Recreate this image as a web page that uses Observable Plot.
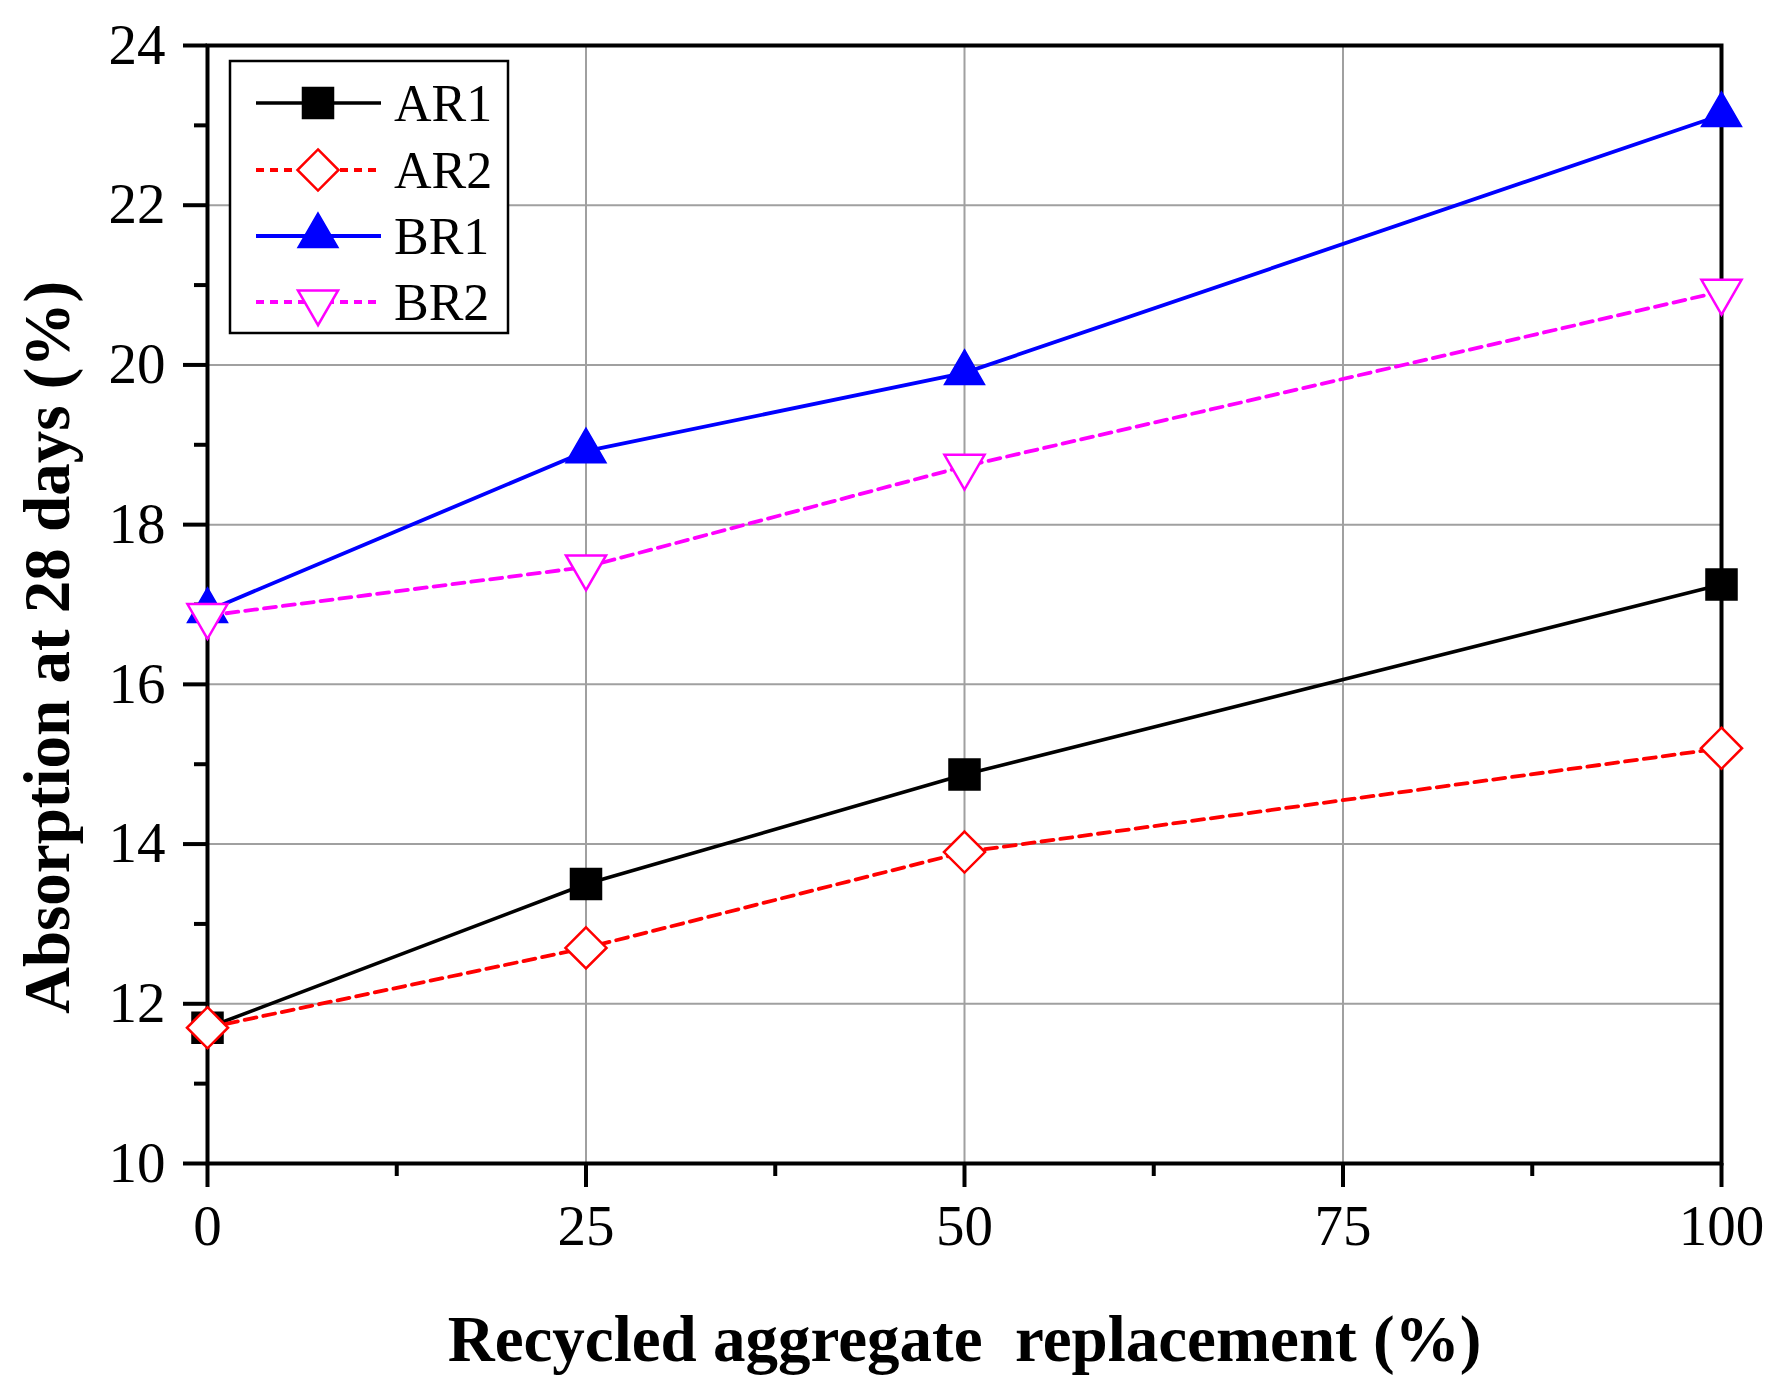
<!DOCTYPE html>
<html>
<head>
<meta charset="utf-8">
<script src="https://cdn.jsdelivr.net/npm/d3@7"></script>
<script src="https://cdn.jsdelivr.net/npm/@observablehq/plot@0.6"></script>
<style>
  html, body { margin: 0; padding: 0; background: #fff; overflow: hidden; }
  #wrap { position: relative; width: 1788px; height: 1397px; }
  #legend { position: absolute; left: 0; top: 0; }
</style>
</head>
<body>
<div id="wrap"></div>
<script>
// ---- data ----
const replacement = [0, 25, 50, 100];
const seriesNames = ["AR1", "AR2", "BR1", "BR2"];
const AR1 = [11.7, 13.5, 14.87, 17.25];
const AR2 = [11.7, 12.7, 13.9, 15.2];
const BR1 = [16.92, 18.92, 19.9, 23.13];
const BR2 = [16.86, 17.47, 18.73, 20.92];
const xTicks = [0, 25, 50, 75, 100];
const xMinorTicks = [12.5, 37.5, 62.5, 87.5];
const yTicks = [10, 12, 14, 16, 18, 20, 22, 24];
const yMinorTicks = [11, 13, 15, 17, 19, 21, 23];
const xTitle = "Recycled aggregate  replacement (%)";
const yTitle = "Absorption at 28 days (%)";

const values = {AR1, AR2, BR1, BR2};

const triangleDown = {
  draw(context, size) {
    const y = Math.sqrt(size / (3 * Math.sqrt(3)));
    context.moveTo(0, 2 * y);
    context.lineTo(-Math.sqrt(3) * y, -y);
    context.lineTo(Math.sqrt(3) * y, -y);
    context.closePath();
  }
};

const styles = {
  AR1: {stroke: "#000000", dash: null, width: 3.6, symbol: "square", r: 17.5, fill: "#000000", symStroke: 1.5},
  AR2: {stroke: "#ff0000", dash: "12,7", width: 3.8, symbol: "diamond2", r: 18.5, fill: "#ffffff", symStroke: 2.5},
  BR1: {stroke: "#0000ff", dash: null, width: 3.8, symbol: "triangle", r: 14.9, fill: "#0000ff", symStroke: 1.5},
  BR2: {stroke: "#ff00ff", dash: "12,7", width: 3.8, symbol: triangleDown, r: 14.9, fill: "#ffffff", symStroke: 2.5}
};

const rows = seriesNames.map(name => replacement.map((x, i) => ({name, x, y: values[name][i]})));

const font = "'Liberation Serif', 'Times New Roman', serif";

const marks = [
  Plot.ruleX(xTicks, {stroke: "#a0a0a0", strokeWidth: 2}),
  Plot.ruleY(yTicks, {stroke: "#a0a0a0", strokeWidth: 2}),
  Plot.frame({stroke: "#000", strokeWidth: 4}),
  Plot.axisY({ticks: yTicks, tickSize: 24, tickPadding: 18, strokeWidth: 4, fontSize: 57, label: null, tickFormat: d => String(d)}),
  Plot.axisY({ticks: yMinorTicks, tickSize: 13, strokeWidth: 4, text: null, label: null}),
  Plot.axisX({ticks: xTicks, tickSize: 24, tickPadding: 17, strokeWidth: 4, fontSize: 57, label: null, tickFormat: d => String(d)}),
  Plot.axisX({ticks: xMinorTicks, tickSize: 13, strokeWidth: 4, text: null, label: null}),
  Plot.text([yTitle], {frameAnchor: "left", dx: -139, dy: 43, rotate: -90, lineAnchor: "bottom", textAnchor: "middle",
    fontSize: 65, fontWeight: "bold", fill: "#000"}),
  Plot.text([xTitle], {frameAnchor: "bottom", dy: 197, lineAnchor: "bottom", textAnchor: "middle",
    fontSize: 65, fontWeight: "bold", fill: "#000"})
];

rows.forEach((data, k) => {
  const s = styles[seriesNames[k]];
  marks.push(Plot.line(data, {x: "x", y: "y", stroke: s.stroke, strokeWidth: s.width, strokeDasharray: s.dash || undefined}));
});
rows.forEach((data, k) => {
  const s = styles[seriesNames[k]];
  marks.push(Plot.dot(data, {x: "x", y: "y", symbol: s.symbol, r: s.r, fill: s.fill, stroke: s.stroke, strokeWidth: s.symStroke}));
});

const chart = Plot.plot({
  width: 1788,
  height: 1397,
  marginLeft: 207,
  marginRight: 67,
  marginTop: 45,
  marginBottom: 234,
  style: {fontFamily: font, background: "#fff", color: "#000", overflow: "visible"},
  x: {domain: [0, 100]},
  y: {domain: [10, 24]},
  marks
});

const wrap = document.getElementById("wrap");
wrap.appendChild(chart);

// ---- legend overlay ----
const legendBox = {left: 230, top: 61, width: 278, height: 272};
const rowY = [42, 109, 175, 241];
const leg = d3.create("svg")
  .attr("id", "legend")
  .attr("width", legendBox.width + 4)
  .attr("height", legendBox.height + 4)
  .style("left", (legendBox.left - 2) + "px")
  .style("top", (legendBox.top - 2) + "px")
  .style("position", "absolute");
const g = leg.append("g").attr("transform", "translate(2,2)");
g.append("rect").attr("width", legendBox.width).attr("height", legendBox.height)
  .attr("fill", "#fff").attr("stroke", "#000").attr("stroke-width", 2.5);
const symMap = {square: d3.symbolSquare, diamond2: d3.symbolDiamond2, triangle: d3.symbolTriangle};
seriesNames.forEach((name, i) => {
  const s = styles[name];
  const yy = rowY[i];
  g.append("line").attr("x1", 26).attr("x2", 151).attr("y1", yy).attr("y2", yy)
    .attr("stroke", s.stroke).attr("stroke-width", s.width)
    .attr("stroke-dasharray", s.dash ? "8,6" : null);
  const type = typeof s.symbol === "string" ? symMap[s.symbol] : s.symbol;
  g.append("path").attr("d", d3.symbol(type, Math.PI * s.r * s.r)())
    .attr("transform", `translate(88,${yy})`)
    .attr("fill", s.fill).attr("stroke", s.stroke).attr("stroke-width", s.symStroke);
  g.append("text").attr("x", 164).attr("y", yy).attr("dy", "0.35em")
    .attr("font-family", font).attr("font-size", 52).attr("fill", "#000").text(name);
});
wrap.appendChild(leg.node());
</script>
</body>
</html>
